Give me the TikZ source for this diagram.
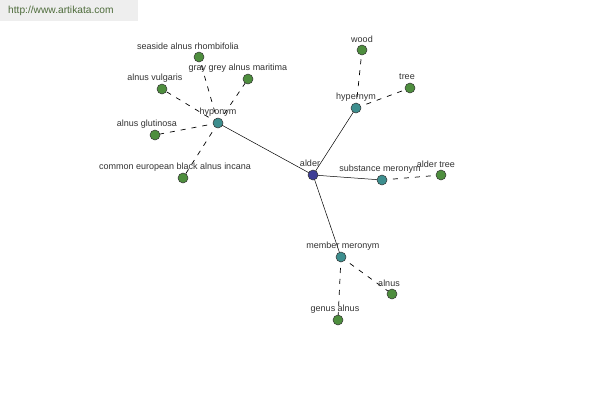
\documentclass[tikz,border=0pt]{standalone}
\usepackage{fontspec}
\setmainfont{Liberation Sans}
\definecolor{leaf}{HTML}{4E8E3E}
\definecolor{hub}{HTML}{3D8E8E}
\definecolor{root}{HTML}{3E3E96}
\definecolor{txt}{HTML}{333333}
\definecolor{hdrbg}{HTML}{EEEEEE}
\definecolor{hdrtx}{HTML}{4D6B3A}
\tikzset{
  dot/.style={circle,draw=black!80,line width=0.5pt,minimum size=10pt,inner sep=0pt},
  leafdot/.style={dot,fill=leaf},
  hubdot/.style={dot,fill=hub},
  rootdot/.style={dot,fill=root},
  lbl/.style={font=\fontsize{9}{10}\selectfont,text=txt,inner sep=0pt},
  solidedge/.style={draw=black,line width=0.5pt},
  dashedge/.style={draw=black,line width=0.7pt,dash pattern=on 5pt off 6pt}
}
\begin{document}
\begin{tikzpicture}[x=1pt,y=-1pt]
\useasboundingbox (0,0) rectangle (600,400);
\fill[white] (0,0) rectangle (600,400);
\fill[hdrbg] (0,0) rectangle (138,21);
\node[font=\fontsize{10.2}{12}\selectfont,text=hdrtx,anchor=west,inner sep=0pt] (hdr) at (8,11) {http://www.artikata.com};
% edges first
\coordinate (cAl) at (313,175);
\coordinate (cHypo) at (218,123);
\coordinate (cHyper) at (356,108);
\coordinate (cSub) at (382,180);
\coordinate (cMem) at (341,257);
\coordinate (cSea) at (199,57);
\coordinate (cGray) at (248,79);
\coordinate (cVul) at (162,89);
\coordinate (cGlu) at (155,135);
\coordinate (cCom) at (183,178);
\coordinate (cWood) at (362,50);
\coordinate (cTree) at (410,88);
\coordinate (cAlt) at (441,175);
\coordinate (cAlnus) at (392,294);
\coordinate (cGen) at (338,320);
\draw[solidedge] (cAl) -- (cHypo);
\draw[solidedge] (cAl) -- (cHyper);
\draw[solidedge] (cAl) -- (cSub);
\draw[solidedge] (cAl) -- (cMem);
\draw[dashedge] (cHypo) -- (cSea);
\draw[dashedge] (cHypo) -- (cGray);
\draw[dashedge] (cHypo) -- (cVul);
\draw[dashedge] (cHypo) -- (cGlu);
\draw[dashedge] (cHypo) -- (cCom);
\draw[dashedge] (cHyper) -- (cWood);
\draw[dashedge] (cHyper) -- (cTree);
\draw[dashedge] (cSub) -- (cAlt);
\draw[dashedge] (cMem) -- (cAlnus);
\draw[dashedge] (cMem) -- (cGen);
% nodes
\node[rootdot] (al) at (cAl) {};
\node[hubdot] (hypo) at (cHypo) {};
\node[hubdot] (hyper) at (cHyper) {};
\node[hubdot] (sub) at (cSub) {};
\node[hubdot] (mem) at (cMem) {};
\node[leafdot] (sea) at (cSea) {};
\node[leafdot] (gray) at (cGray) {};
\node[leafdot] (vul) at (cVul) {};
\node[leafdot] (glu) at (cGlu) {};
\node[leafdot] (com) at (cCom) {};
\node[leafdot] (wood) at (cWood) {};
\node[leafdot] (tree) at (cTree) {};
\node[leafdot] (alt) at (cAlt) {};
\node[leafdot] (alnus) at (cAlnus) {};
\node[leafdot] (gen) at (cGen) {};
% labels
\node[lbl] (lal) at (310,163) {alder};
\node[lbl] (lhypo) at (218,112) {hyponym};
\node[lbl] (lhyper) at (356,97) {hypernym};
\node[lbl] (lsub) at (380,169) {substance meronym};
\node[lbl] (lmem) at (343,246) {member meronym};
\node[lbl] (lsea) at (188,46) {seaside alnus rhombifolia};
\node[lbl] (lgray) at (238,68) {gray grey alnus maritima};
\node[lbl] (lvul) at (155,78) {alnus vulgaris};
\node[lbl] (lglu) at (147,124) {alnus glutinosa};
\node[lbl] (lcom) at (175,167) {common european black alnus incana};
\node[lbl] (lwood) at (362,39) {wood};
\node[lbl] (ltree) at (407,77) {tree};
\node[lbl] (lalt) at (436,164) {alder tree};
\node[lbl] (lalnus) at (389,283) {alnus};
\node[lbl] (lgen) at (335,309) {genus alnus};
\end{tikzpicture}
\end{document}
